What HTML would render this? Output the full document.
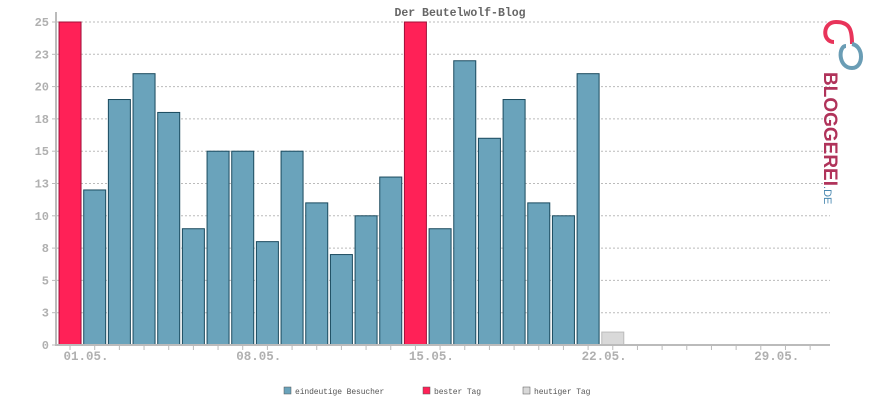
<!DOCTYPE html>
<html><head><meta charset="utf-8"><style>
body{margin:0;background:#fff;width:870px;height:400px;overflow:hidden}
svg{display:block;font-family:"Liberation Mono",monospace}
</style></head><body>
<svg id="chart" width="870" height="400" viewBox="0 0 870 400">
<text x="460" y="16" text-anchor="middle" font-size="11.5" font-weight="bold" fill="#666">Der Beutelwolf-Blog</text>
<g id="grid"></g><g id="bars"></g><g id="axes"></g>
<g>
<path d="M834 42 C822 42 822 22 836 22 C850 22 852 30 852 44" fill="none" stroke="#e8345a" stroke-width="4"/>
<path d="M846 46 C838 46 838 68 852 68 C864 68 864 46 852 44" fill="none" stroke="#6a9db5" stroke-width="4"/>
<text x="824" y="72" transform="rotate(90 824 72)" font-family="Liberation Sans,sans-serif" font-weight="bold" font-size="19" fill="#b0335a">BLOGGEREI<tspan font-size="11" font-weight="normal" fill="#4a88b0">.DE</tspan></text>
</g>
<g id="legend"></g>
</svg>
<script>
const days=[];for(let i=1;i<=31;i++)days.push((i<10?'0':'')+i+'.05.');
const visitors=[25,12,19,21,18,9,15,15,8,15,11,7,10,13,25,9,22,16,19,11,10,21,1,0,0,0,0,0,0,0,0];
const bestDays=[0,14];
const todayIndex=22;
const yTicks=[0,2.5,5,7.5,10,12.5,15,17.5,20,22.5,25];
const yTickLabels=['0','3','5','8','10','13','15','18','20','23','25'];
const xLabelDays=[0,7,14,21,28];
const legendLabels=['eindeutige Besucher','bester Tag','heutiger Tag'];
const legendColors=['#6aa3bb','#ff2157','#d9d9d9'];
const NS='http://www.w3.org/2000/svg';
const x0=57.7,slot=24.67,y0=345,yTop=22,yMax=25,xEnd=830;
const xC=i=>x0+slot*(i+0.5);
const yS=v=>y0-(v/yMax)*(y0-yTop);
function mk(t,a,p){const e=document.createElementNS(NS,t);for(const k in a)e.setAttribute(k,a[k]);p.appendChild(e);return e;}
const grid=document.getElementById('grid'),bars=document.getElementById('bars'),axes=document.getElementById('axes'),leg=document.getElementById('legend');
yTicks.forEach((v,i)=>{
 if(v>0){const l=mk('line',{x1:57,x2:xEnd,y1:yS(v),y2:yS(v),stroke:'#bbb','stroke-dasharray':'2,2'},grid);
 
 }
 const t=mk('text',{x:49,y:yS(v)+4,'text-anchor':'end','font-size':'12','font-weight':'bold',fill:'#b0b0b0'},axes);t.textContent=yTickLabels[i];
 
 
 mk('line',{x1:52,x2:57,y1:yS(v),y2:yS(v),stroke:'#bbb'},axes);
});
visitors.forEach((v,i)=>{
 if(v<=0)return;
 let fill='#6aa3bb',st='#1a4a5e';
 if(bestDays.includes(i)){fill='#ff2157';st='#a0103a';}
 if(i===todayIndex){fill='#d9d9d9';st='#bbb';}
 const r=mk('rect',{x:xC(i)-11,y:yS(v),width:22,height:y0-yS(v),fill:fill,stroke:st,'stroke-width':1},bars);
 
 
});
mk('line',{x1:56,x2:56,y1:12,y2:346,stroke:'#bbb','stroke-width':2},axes);
mk('line',{x1:56,x2:xEnd,y1:345,y2:345,stroke:'#bbb','stroke-width':2},axes);
for(let i=0;i<31;i++)mk('line',{x1:xC(i),x2:xC(i),y1:345,y2:350,stroke:'#bbb'},axes);
xLabelDays.forEach(i=>{const t=mk('text',{x:xC(i)+16,y:360,'text-anchor':'middle','font-size':'12.5','font-weight':'bold',fill:'#b0b0b0'},axes);t.textContent=days[i];
 
 });
const lx=[284,423,523];
legendLabels.forEach((s,i)=>{
 const g=mk('g',{},leg);
 
 
 mk('rect',{x:lx[i],y:387,width:7,height:7,fill:legendColors[i],stroke:'#555','stroke-width':0.5},g);
 const t=mk('text',{x:lx[i]+11,y:394,'font-size':'8','textLength':s.length*4.7,fill:'#555'},g);t.textContent=s;
});
</script>
</body></html>
